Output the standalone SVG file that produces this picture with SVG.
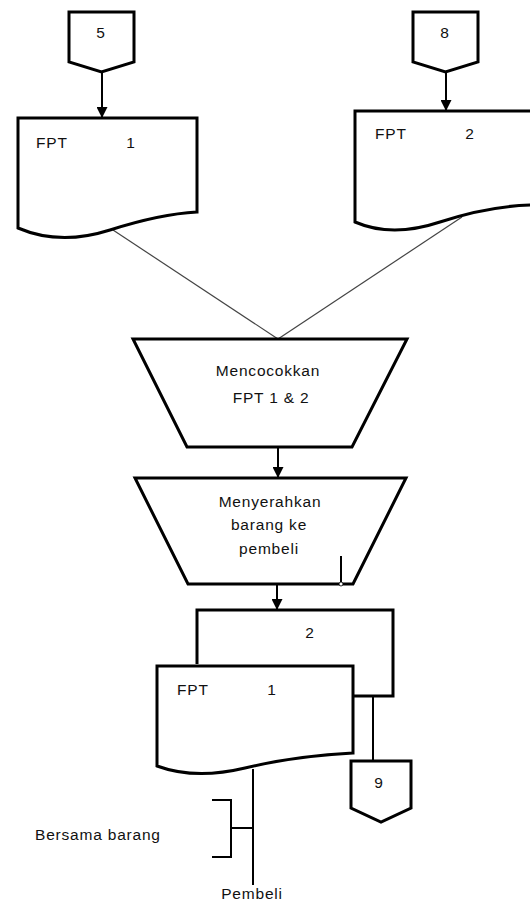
<svg xmlns="http://www.w3.org/2000/svg" width="530" height="905" viewBox="0 0 530 905">
<style>
.shape{fill:#fff;stroke:#000;stroke-width:3;stroke-linejoin:miter}
.line{stroke:#000;stroke-width:2;fill:none}
.thin{stroke:#444;stroke-width:1.2;fill:none}
.t{font-family:"Liberation Sans",Arial,sans-serif;font-size:15.5px;fill:#111;letter-spacing:0.8px}
.c{text-anchor:middle}
</style>
<defs>
<marker id="arr" markerWidth="11" markerHeight="11" refX="10" refY="5.5" orient="auto" markerUnits="userSpaceOnUse">
<path d="M0,0 L11,5.5 L0,11 Z" fill="#000"/>
</marker>
</defs>
<g id="connectors">
<line class="line" x1="102" y1="72" x2="102" y2="117" marker-end="url(#arr)"/>
<line class="line" x1="446" y1="72" x2="446" y2="110" marker-end="url(#arr)"/>
<line class="thin" x1="113" y1="230" x2="278" y2="339"/>
<line class="thin" x1="462" y1="217" x2="278" y2="339"/>
<line class="line" x1="278" y1="447" x2="278" y2="477" marker-end="url(#arr)"/>
<line class="line" x1="277" y1="584" x2="277" y2="609" marker-end="url(#arr)"/>
<line class="line" x1="373" y1="696" x2="373" y2="761"/>
<line class="line" x1="253" y1="769" x2="253" y2="885"/>
<path class="line" d="M212,800 H231 V857 H212 M231,828 H253"/>
</g>
<g id="conn5">
<path class="shape" d="M69,12 H134 V62 L101.5,72 L69,62 Z"/>
<text class="t c" x="101" y="38">5</text>
</g>
<g id="conn8">
<path class="shape" d="M413,12 H478 V62 L445.5,72 L413,62 Z"/>
<text class="t c" x="445" y="38">8</text>
</g>
<g id="fpt1">
<path class="shape" d="M18,118 H197 V212 Q160,214 110,230 Q60,246 18,228 Z"/>
<text class="t" x="36" y="148">FPT</text>
<text class="t c" x="131" y="148">1</text>
</g>
<g id="fpt2">
<path class="shape" d="M355,111 H532 V205 Q488,206 440,222 Q392,238 355,222 Z"/>
<text class="t" x="375" y="139">FPT</text>
<text class="t c" x="470" y="139">2</text>
</g>
<g id="mencocokkan">
<path class="shape" d="M133,339 H407 L352,447 H187 Z"/>
<text class="t c" x="268" y="376">Mencocokkan</text>
<text class="t c" x="271" y="403">FPT 1 &amp; 2</text>
</g>
<g id="menyerahkan">
<path class="shape" d="M135,478 H406 L353,584 H188 Z"/>
<text class="t c" x="270" y="507">Menyerahkan</text>
<text class="t c" x="269" y="530">barang ke</text>
<text class="t c" x="269" y="554">pembeli</text>
<line x1="341" y1="556" x2="341" y2="582" stroke="#000" stroke-width="2"/>
<circle cx="341" cy="584" r="2" fill="#fff" stroke="#000" stroke-width="0.8"/>
</g>
<g id="fpt2-copy">
<path class="shape" d="M197,664 V610 H393 V696 H353"/>
<text class="t c" x="310" y="638">2</text>
</g>
<g id="fpt1-copy">
<path class="shape" d="M157,666 H353 V753 Q295,756 245,768 Q195,780 157,766 Z"/>
<text class="t" x="177" y="695">FPT</text>
<text class="t c" x="272" y="695">1</text>
</g>
<g id="conn9">
<path class="shape" d="M351,761 H411 V808 L381,822 L351,808 Z"/>
<text class="t c" x="379" y="788">9</text>
</g>
<g id="label-bersama">
<text class="t" x="35" y="840">Bersama barang</text>
</g>
<g id="pembeli">
<text class="t c" x="252" y="899">Pembeli</text>
</g>
</svg>
